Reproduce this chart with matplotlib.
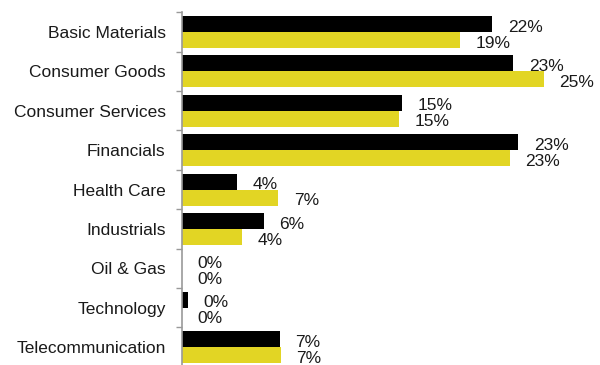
import numpy as np
import matplotlib
matplotlib.use("Agg")
import matplotlib.pyplot as plt

# Datos (valores en %)
categorias = ["Basic Materials", "Consumer Goods", "Consumer Services", "Financials",
              "Health Care", "Industrials", "Oil & Gas", "Technology", "Telecommunication"]
serie_negra = [21.6, 23.05, 15.3, 23.4, 3.8, 5.7, 0.0, 0.42, 6.8]
serie_amarilla = [19.35, 25.2, 15.1, 22.8, 6.7, 4.15, 0.0, 0.0, 6.85]

plt.rcParams['font.family'] = ['Liberation Sans', 'DejaVu Sans']

fig = plt.figure(figsize=(6.0, 3.65), dpi=100)
# eje: 9 categorías de ~39.4 px, empieza en y=12.3 px
ax = fig.add_axes([0.3038, 1 - (12.3 + 9 * 39.4) / 365, 0.694, 9 * 39.4 / 365])

y = np.arange(len(categorias))
h = 0.406
amarillo = '#E2D524'

ax.barh(y - h / 2, serie_negra, height=h, color='black')
ax.barh(y + h / 2, serie_amarilla, height=h, color=amarillo)

# Etiquetas de valor
desplaz = 15.5 / 14.36  # ~15 px a la derecha del final de la barra
for i in range(len(categorias)):
    ax.text(serie_negra[i] + desplaz, y[i] - h / 2 + 0.08, f"{serie_negra[i]:.0f}%",
            va='center', ha='left', fontsize=12.5, color='#1a1a1a')
    ax.text(serie_amarilla[i] + desplaz, y[i] + h / 2 + 0.08, f"{serie_amarilla[i]:.0f}%",
            va='center', ha='left', fontsize=12.5, color='#1a1a1a')

ax.set_xlim(0, 29)
ax.set_ylim(len(categorias) - 0.5, -0.5)

ax.set_yticks(y)
ax.set_yticklabels(categorias, fontsize=12.5, color='#1a1a1a')
ax.set_yticks(np.arange(len(categorias) + 1) - 0.5, minor=True)
ax.tick_params(axis='y', which='major', length=0, pad=12)
ax.tick_params(axis='y', which='minor', length=4, width=1, color='#999999', direction='out')
ax.set_xticks([])

for lado in ['top', 'right', 'bottom']:
    ax.spines[lado].set_visible(False)
ax.spines['left'].set_color('#999999')
ax.spines['left'].set_linewidth(1.2)

fig.savefig("out.png", dpi=100)
